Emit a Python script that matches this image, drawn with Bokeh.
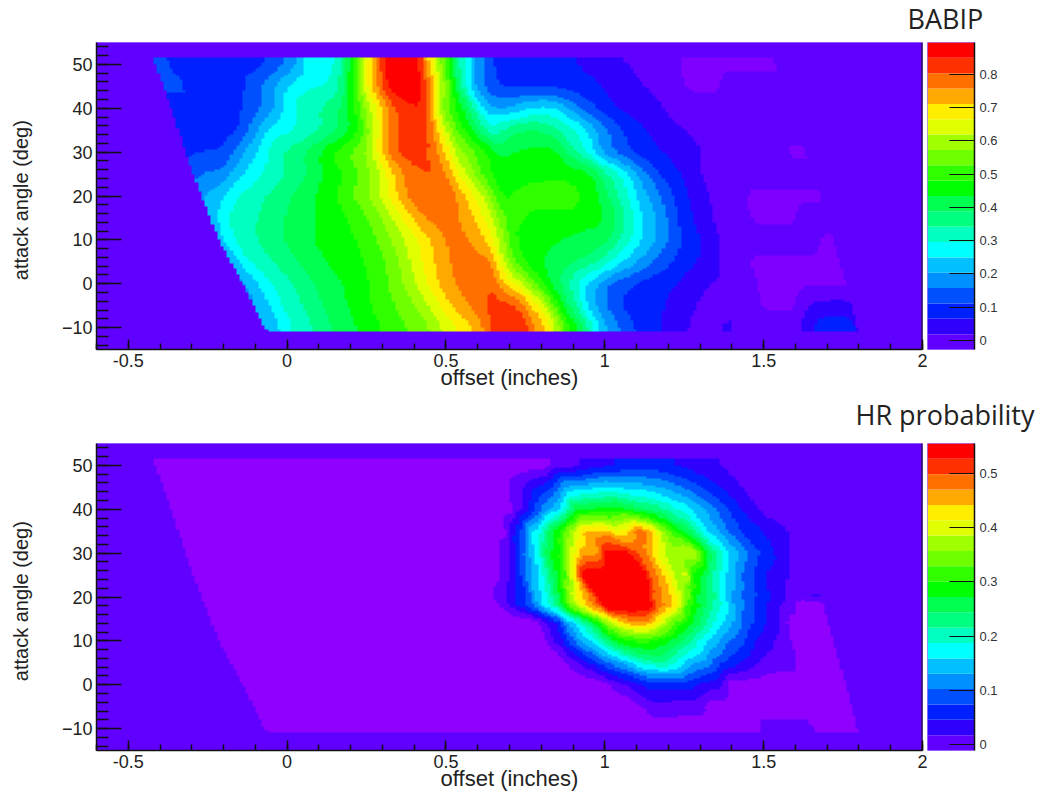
import numpy as np
from bokeh.embed import file_html
from bokeh.resources import INLINE
from bokeh.plotting import figure
from bokeh.layouts import column, row
from bokeh.models import (Range1d, LinearColorMapper, SingleIntervalTicker, FixedTicker,
                          Label, Span, LinearAxis)

palette = ["#6000ff", "#3000ff", "#0020ff", "#0050ff", "#0090ff", "#00c0ff", "#00ffff",
           "#00ffc0", "#00ff80", "#00ff50", "#00ff00", "#30ff00", "#70ff00", "#a0ff00",
           "#e0ff00", "#ffee00", "#ffa800", "#ff7000", "#ff3000", "#ff0000"]

# region outline: attack angle, left and right offset limits
edge_y = [51, 40, 30, 20, 10, 0, -10, -11]
edge_left = [-0.42, -0.365, -0.32, -0.27, -0.215, -0.14, -0.07, -0.05]
edge_right = [1.53, 1.58, 1.63, 1.68, 1.72, 1.76, 1.795, 1.80]

# BABIP rows
b50_x = [-.42, -.35, -.1, 0, .04, .06, .14, .17, .2, .23, .26, .28, .3, .33, .41, .43, .45, .47, .49, .52, .55, .57, .6, .64, .68, .9, .96, 1.04, 1.2, 1.25, 1.5, 1.53]
b50_v = [.13, .10, .09, .16, .22, .27, .28, .33, .45, .58, .68, .76, .83, .88, .88, .78, .68, .62, .55, .42, .32, .27, .18, .12, .09, .07, .04, .02, .01, -.04, -.04, -.04]
b45_x = [-.403, -.382, -.314, -.304, -.157, -.115, -.073, -.031, 0, .031, .147, .168, .199, .22, .241, .262, .283, .304, .325, .419, .44, .461, .482, .503, .524, .545, .565, .586, .628, .68, .95, 1.0, 1.04, 1.15, 1.23, 1.25, 1.36, 1.38, 1.55]
b45_v = [.13, .12, .12, .09, .09, .13, .17, .21, .25, .28, .3, .36, .45, .55, .63, .7, .76, .83, .88, .88, .8, .72, .64, .56, .46, .35, .29, .2, .14, .1, .09, .06, .04, .01, 0, -.04, -.04, 0, 0]
b40_x = [-.37, -.18, -.125, -.07, -.03, 0, .03, .115, .157, .19, .22, .25, .27, .29, .31, .335, .36, .43, .45, .47, .49, .53, .56, .6, .64, .7, .76, .83, .89, .93, 1.0, 1.04, 1.15, 1.2, 1.58]
b40_v = [.09, .09, .12, .16, .22, .27, .31, .35, .38, .43, .5, .58, .64, .68, .74, .78, .83, .85, .75, .65, .55, .47, .43, .3, .2, .2, .25, .27, .2, .14, .09, .06, .04, .01, 0]
b35_x = [-.351, -.157, -.115, -.084, -.052, .052, .115, .178, .22, .251, .272, .293, .314, .335, .356, .44, .461, .482, .503, .524, .565, .607, .64, .67, .72, .78, .85, .91, .94, .98, 1.03, 1.07, 1.125, 1.18, 1.24, 1.31, 1.6]
b35_v = [.08, .1, .16, .22, .27, .3, .34, .4, .47, .55, .62, .68, .73, .78, .82, .83, .75, .68, .62, .55, .46, .38, .3, .34, .39, .4, .35, .3, .27, .2, .14, .1, .07, .04, .02, .01, 0]
b30_x = [-.33, -.27, -.2, -.125, -.08, -.05, .03, .094, .157, .22, .26, .28, .30, .325, .355, .44, .46, .49, .51, .53, .575, .62, .67, .72, .85, .88, .92, .95, 1.0, 1.05, 1.13, 1.2, 1.3, 1.4, 1.55, 1.57, 1.62, 1.63]
b30_v = [.10, .11, .11, .22, .27, .32, .37, .43, .5, .55, .6, .66, .73, .77, .82, .82, .77, .73, .68, .6, .55, .5, .42, .44, .45, .38, .32, .27, .18, .13, .08, .06, .02, 0, 0, -.04, -.04, -.04]
b25_x = [-.298, -.262, -.2, -.168, -.115, -.073, .031, .094, .178, .23, .272, .304, .325, .356, .387, .419, .471, .503, .534, .565, .597, .639, .67, .72, .95, .97, 1.0, 1.035, 1.07, 1.1, 1.14, 1.17, 1.2, 1.26, 1.31, 1.65]
b25_v = [.14, .16, .17, .22, .27, .3, .36, .42, .48, .53, .58, .64, .68, .74, .78, .8, .8, .75, .68, .62, .55, .48, .46, .46, .46, .42, .37, .32, .27, .21, .15, .12, .09, .05, .01, 0]
b20_x = [-.27, -.2, -.17, -.115, -.03, .03, .115, .178, .24, .28, .314, .335, .367, .388, .44, .52, .54, .565, .6, .64, .67, .76, .82, .9, .93, .98, 1.02, 1.06, 1.09, 1.12, 1.16, 1.2, 1.24, 1.29, 1.35, 1.43, 1.45, 1.68]
b20_v = [.2, .24, .29, .32, .36, .40, .45, .5, .56, .6, .66, .7, .74, .78, .79, .79, .74, .7, .65, .58, .47, .5, .52, .52, .46, .44, .37, .32, .27, .22, .18, .13, .09, .04, .01, .005, -.04, -.04]
b15_x = [-.246, -.209, -.178, -.073, .01, .105, .188, .262, .304, .335, .367, .398, .429, .513, .555, .597, .628, .67, .70, .78, .82, .97, 1.02, 1.05, 1.08, 1.1, 1.15, 1.18, 1.21, 1.245, 1.3, 1.35, 1.44, 1.46, 1.6, 1.62, 1.7]
b15_v = [.2, .27, .31, .35, .4, .44, .48, .53, .58, .62, .67, .72, .76, .77, .75, .7, .65, .57, .5, .47, .45, .45, .42, .37, .32, .27, .22, .18, .14, .09, .05, .01, 0, -.04, -.04, 0, 0]
b10_x = [-.215, -.19, -.147, -.084, .01, .094, .178, .25, .304, .356, .398, .44, .47, .5, .566, .59, .63, .66, .69, .72, .8, .9, 1.0, 1.03, 1.07, 1.1, 1.16, 1.19, 1.22, 1.27, 1.32, 1.37, 1.65, 1.69, 1.72]
b10_v = [.23, .27, .31, .35, .40, .44, .46, .5, .55, .6, .65, .69, .74, .76, .76, .75, .7, .65, .55, .47, .45, .43, .41, .37, .31, .27, .21, .17, .13, .09, .05, .01, 0, -.04, -.04]
b5_x = [-.17, -.15, -.105, -.03, .05, .136, .22, .28, .335, .387, .43, .47, .51, .6, .65, .67, .7, .75, .83, .89, .94, .98, 1.0, 1.04, 1.07, 1.125, 1.18, 1.25, 1.32, 1.37, 1.43, 1.46, 1.74]
b5_v = [.2, .27, .31, .35, .4, .44, .47, .5, .55, .62, .67, .72, .76, .77, .76, .65, .55, .47, .42, .4, .38, .35, .32, .27, .24, .18, .13, .09, .05, .01, .005, -.04, -.04]
b0_x = [-.14, -.105, -.073, -.031, .03, .105, .188, .262, .325, .388, .43, .46, .49, .53, .59, .65, .67, .71, .74, .78, .81, .84, .875, .9, .92, .95, 1.0, 1.03, 1.09, 1.12, 1.22, 1.26, 1.32, 1.45, 1.5, 1.72, 1.76]
b0_v = [.18, .23, .27, .31, .35, .4, .44, .48, .53, .6, .65, .69, .73, .76, .78, .8, .72, .67, .62, .53, .46, .42, .37, .32, .28, .23, .17, .13, .11, .09, .07, .04, .02, 0, -.04, -.04, -.04]
bm5_x = [-.094, -.063, -.031, 0, .063, .126, .22, .293, .377, .429, .471, .503, .534, .586, .618, .68, .735, .76, .8, .82, .85, .87, .91, .93, .96, .99, 1.03, 1.05, 1.1, 1.16, 1.22, 1.28, 1.36, 1.45, 1.5, 1.6, 1.63, 1.7, 1.78, 1.8]
bm5_v = [.2, .24, .28, .31, .35, .4, .45, .5, .55, .6, .65, .69, .73, .77, .8, .83, .8, .72, .67, .6, .5, .42, .34, .28, .22, .17, .13, .11, .09, .08, .05, .02, 0, 0, -.04, -.04, .02, .04, .04, 0]
bm10_x = [-.065, -.03, 0, .03, .094, .157, .25, .325, .43, .47, .51, .54, .6, .63, .66, .756, .77, .8, .83, .85, .886, .92, .94, .97, 1.0, 1.04, 1.07, 1.13, 1.22, 1.28, 1.36, 1.385, 1.41, 1.6, 1.64, 1.67, 1.78, 1.8]
bm10_v = [.2, .24, .28, .31, .35, .40, .45, .5, .55, .6, .64, .67, .72, .78, .83, .83, .78, .73, .68, .6, .5, .43, .37, .28, .22, .17, .13, .09, .04, .01, .01, .04, .01, .01, .04, .09, .09, .04]

# HR probability rows
h50_x = [-.42, .8, .84, .9, .95, 1.05, 1.15, 1.25, 1.35, 1.42, 1.53]
h50_v = [-.03, -.03, 0, .01, .03, .05, .06, .04, .02, .005, 0]
h40_x = [-.37, .70, .72, .75, .775, .806, .848, .88, .91, 1.047, 1.09, 1.17, 1.225, 1.27, 1.3, 1.34, 1.38, 1.41, 1.456, 1.5, 1.59]
h40_v = [-.03, -.03, 0, .03, .06, .11, .15, .2, .27, .29, .26, .23, .19, .165, .14, .11, .08, .06, .03, .01, 0]
h35_x = [-.35, .68, .70, .72, .745, .764, .795, .827, .858, .89, .93, 1.005, 1.037, 1.068, 1.11, 1.15, 1.19, 1.236, 1.277, 1.31, 1.35, 1.39, 1.435, 1.54, 1.6]
h35_v = [-.03, -.03, .02, .05, .1, .15, .18, .25, .3, .36, .44, .45, .41, .43, .5, .44, .35, .28, .24, .17, .14, .1, .07, .03, .01]
h30_x = [-.32, .65, .68, .71, .73, .743, .764, .785, .806, .827, .858, .89, .91, .93, .963, .985, 1.0, 1.068, 1.09, 1.12, 1.14, 1.16, 1.19, 1.225, 1.257, 1.278, 1.31, 1.33, 1.35, 1.382, 1.414, 1.445, 1.477, 1.52, 1.55, 1.59, 1.63]
h30_v = [-.03, -.03, 0, .03, .07, .1, .13, .17, .23, .27, .30, .38, .42, .46, .455, .48, .54, .54, .51, .49, .45, .42, .38, .36, .39, .39, .3, .26, .22, .17, .14, .11, .08, .06, .03, .015, 0]
h25_x = [-.3, .649, .68, .712, .733, .754, .775, .796, .822, .848, .879, .9, .921, .937, 1.12, 1.142, 1.173, 1.2, 1.225, 1.257, 1.278, 1.32, 1.351, 1.383, 1.414, 1.456, 1.498, 1.54, 1.582, 1.613]
h25_v = [-.03, -.03, 0, .03, .07, .11, .14, .17, .22, .27, .33, .42, .5, .56, .56, .5, .46, .42, .38, .39, .3, .25, .2, .16, .12, .08, .05, .03, .015, 0]
h20_x = [-.27, .64, .66, .69, .72, .76, .764, .785, .806, .838, .858, .88, .90, .93, .952, .974, .995, 1.13, 1.15, 1.194, 1.225, 1.25, 1.278, 1.278, 1.32, 1.35, 1.37, 1.4, 1.435, 1.466, 1.5, 1.54, 1.58, 1.62, 1.66, 1.7, 1.72]
h20_v = [-.03, -.03, 0, .02, .05, .08, .09, .14, .17, .22, .27, .33, .4, .44, .47, .52, .56, .56, .5, .46, .42, .37, .30, .28, .25, .21, .17, .13, .10, .08, .06, .03, .015, 0, .02, .02, 0]
h18_x = [-.26, .649, .712, .775, .806, .837, .858, .9, .932, .963, .984, 1.005, 1.131, 1.162, 1.204, 1.225, 1.257, 1.299, 1.341, 1.383, 1.414, 1.456, 1.498, 1.55, 1.592, 1.603, 1.7]
h18_v = [-.03, -.03, .03, .1, .16, .2, .25, .36, .42, .48, .5, .56, .56, .5, .45, .42, .32, .27, .21, .17, .12, .09, .05, .02, 0, -.03, -.03]
h14_x = [-.24, .775, .85, .88, .91, .942, .974, 1.005, 1.047, 1.09, 1.14, 1.18, 1.225, 1.278, 1.33, 1.37, 1.414, 1.456, 1.5, 1.55, 1.59, 1.7]
h14_v = [-.03, -.03, .05, .12, .17, .22, .28, .35, .42, .46, .45, .39, .32, .27, .2, .16, .12, .08, .05, .02, -.03, -.03]
h10_x = [-.215, .806, .827, .858, .88, .9, .92, .963, 1.005, 1.026, 1.068, 1.13, 1.194, 1.236, 1.278, 1.31, 1.35, 1.38, 1.435, 1.466, 1.508, 1.55, 1.58, 1.59, 1.72]
h10_v = [-.03, -.03, .01, .03, .07, .10, .13, .17, .23, .27, .3, .31, .28, .25, .21, .17, .14, .11, .08, .05, .03, .01, 0, -.03, -.03]
h5_x = [-.18, .858, .89, .93, .974, 1.005, 1.047, 1.08, 1.12, 1.18, 1.22, 1.27, 1.32, 1.36, 1.4, 1.46, 1.5, 1.54, 1.59, 1.62, 1.74]
h5_v = [-.03, -.03, 0, .03, .07, .1, .13, .16, .2, .22, .19, .14, .12, .08, .06, .03, .01, 0, 0, -.03, -.03]
h0_x = [-.14, .984, 1.047, 1.09, 1.13, 1.19, 1.256, 1.32, 1.37, 1.4, 1.76]
h0_v = [-.03, -.03, .01, .03, .055, .055, .06, .035, .02, -.03, -.03]
hm5_x = [-.1, 1.09, 1.14, 1.21, 1.30, 1.34, 1.78]
hm5_v = [-.03, -.03, .005, .005, 0, -.03, -.03]
hm10_x = [-.07, 1.48, 1.5, 1.65, 1.67, 1.8]
hm10_v = [-.03, -.03, 0, 0, -.03, -.03]

babip_rows = [(50, b50_x, b50_v), (45, b45_x, b45_v), (40, b40_x, b40_v), (35, b35_x, b35_v), (30, b30_x, b30_v),
              (25, b25_x, b25_v), (20, b20_x, b20_v), (15, b15_x, b15_v), (10, b10_x, b10_v), (5, b5_x, b5_v),
              (0, b0_x, b0_v), (-5, bm5_x, bm5_v), (-10, bm10_x, bm10_v)]
hr_rows = [(50, h50_x, h50_v), (40, h40_x, h40_v), (35, h35_x, h35_v), (30, h30_x, h30_v), (25, h25_x, h25_v),
           (20, h20_x, h20_v), (18, h18_x, h18_v), (14, h14_x, h14_v), (10, h10_x, h10_v), (5, h5_x, h5_v),
           (0, h0_x, h0_v), (-5, hm5_x, hm5_v), (-10, hm10_x, hm10_v)]

X0, X1, Y0, Y1 = -0.6, 2.0, -15.0, 55.0
LEAN = 0.0065   # ridges lean with attack angle, rows are blended along that lean


def sample(rows, ry, xs, y):
    yc = np.clip(y, ry.min(), ry.max())
    k = int(np.clip(np.searchsorted(-ry, -yc) - 1, 0, len(ry) - 2))
    t = (ry[k] - yc) / (ry[k] - ry[k + 1])
    a = np.interp(xs + LEAN * (yc - ry[k]), rows[k][1], rows[k][2])
    b = np.interp(xs + LEAN * (yc - ry[k + 1]), rows[k + 1][1], rows[k + 1][2])
    return (1 - t) * a + t * b


def field(rows, soft):
    xs = np.arange(X0, X1, 0.01) + 0.005
    ys = np.arange(Y0, Y1, 0.5) + 0.25
    ry = np.array([r[0] for r in rows], float)
    img = np.zeros((len(ys), len(xs)))
    for j, y in enumerate(ys):
        line = sample(rows, ry, xs, y)
        if soft:
            line = (line + sample(rows, ry, xs + LEAN * soft, y + soft)
                    + sample(rows, ry, xs - LEAN * soft, y - soft)) / 3
        if -11.2 <= y <= 51.3:
            lo = np.interp(y, edge_y[::-1], edge_left[::-1])
            hi = np.interp(y, edge_y[::-1], edge_right[::-1])
            line[(xs < lo) | (xs > hi)] = 0.0
        else:
            line[:] = 0.0
        img[j] = line
    return img


def main_fig(rows, mapper, height, bottom, soft):
    p = figure(width=887, height=height, x_range=Range1d(X0, X1), y_range=Range1d(Y0, Y1),
               toolbar_location=None, output_backend="svg", x_axis_type=None, y_axis_type=None,
               min_border_left=56, min_border_right=5, min_border_top=0, min_border_bottom=bottom,
               outline_line_color="#a77cff", outline_line_width=1, background_fill_color="#6000ff")
    p.grid.visible = False
    p.image(image=[field(rows, soft)], x=X0, y=Y0, dw=X1 - X0, dh=Y1 - Y0, color_mapper=mapper)
    xa = LinearAxis(ticker=SingleIntervalTicker(interval=0.5, num_minor_ticks=5),
                    major_label_overrides={-0.5: "-0.5", 0: "0", 0.5: "0.5", 1: "1", 1.5: "1.5", 2: "2"},
                    axis_label="offset (inches)", axis_label_standoff=-5,
                    axis_label_text_font="Liberation Sans", axis_label_text_font_size="22px",
                    axis_label_text_font_style="normal", axis_label_text_color="#222222")
    ya = LinearAxis(ticker=SingleIntervalTicker(interval=10, num_minor_ticks=5))
    p.add_layout(xa, "below")
    p.add_layout(ya, "left")
    for a, maj, mnr in ((xa, 10, 6), (ya, 25, 12)):
        a.major_tick_in, a.major_tick_out = maj, 0
        a.minor_tick_in, a.minor_tick_out = mnr, 0
        a.major_tick_line_color = a.minor_tick_line_color = a.axis_line_color = "#111111"
        a.major_tick_line_width = a.minor_tick_line_width = 1.5
        a.axis_line_width = 1.5
        a.major_label_text_font = "Liberation Sans"
        a.major_label_text_font_size = "18px"
        a.major_label_text_color = "#222222"
        a.major_label_standoff = 4
    p.add_layout(Span(location=X1, dimension="height", line_color="#111111", line_width=2))
    return p


def side_fig(text, height):
    p = figure(width=40, height=height, x_range=Range1d(0, 40), y_range=Range1d(height, 0),
               toolbar_location=None, output_backend="svg", x_axis_type=None, y_axis_type=None,
               min_border=0, outline_line_color=None)
    p.grid.visible = False
    p.add_layout(Label(x=20, y=271, text=text, text_align="left", text_baseline="middle", angle=np.pi / 2,
                       text_font="Liberation Sans", text_font_size="20px", text_color="#222222"))
    return p


def bar_fig(low, high, ticks, height, bottom):
    p = figure(width=111, height=height, x_range=Range1d(0, 1), y_range=Range1d(low, high),
               toolbar_location=None, output_backend="svg", x_axis_type=None, y_axis_type=None,
               min_border_left=0, min_border_right=64, min_border_top=0, min_border_bottom=bottom,
               outline_line_color="#a77cff", outline_line_width=1)
    p.grid.visible = False
    lv = np.linspace(low, high, len(palette) + 1)
    p.quad(left=0, right=1, bottom=lv[:-1], top=lv[1:], fill_color=palette, line_color=None)
    a = LinearAxis(ticker=FixedTicker(ticks=ticks), major_tick_in=25, major_tick_out=0,
                   minor_tick_in=0, minor_tick_out=0, major_label_overrides={0: "0"})
    a.major_tick_line_color = a.axis_line_color = "#111111"
    a.major_tick_line_width = 1.2
    a.axis_line_width = 1.5
    a.major_label_text_font = "Liberation Sans"
    a.major_label_text_font_size = "13px"
    a.major_label_text_color = "#333333"
    a.major_label_standoff = 5
    p.add_layout(a, "right")
    return p


def header(text, height, x, y):
    p = figure(width=1038, height=height, x_range=Range1d(0, 1038), y_range=Range1d(height, 0),
               toolbar_location=None, output_backend="svg", x_axis_type=None, y_axis_type=None,
               min_border=0, outline_line_color=None)
    p.grid.visible = False
    p.add_layout(Label(x=x, y=y, text=text, text_align="left", text_baseline="middle",
                       text_font="Open Sans", text_font_size="27px", text_color="#222222"))
    return p


babip_low, babip_high = -0.027, 0.895
hr_low, hr_high = -0.011, 0.555
babip_ticks = [0, .1, .2, .3, .4, .5, .6, .7, .8]
hr_ticks = [0, .1, .2, .3, .4, .5]

m1 = LinearColorMapper(palette=palette, low=babip_low, high=babip_high, low_color="#8000ff", high_color="#ff0000")
m2 = LinearColorMapper(palette=palette, low=hr_low, high=hr_high, low_color="#8f00ff", high_color="#ff0000")

p1 = main_fig(babip_rows, m1, 350, 42, 1.5)
p2 = main_fig(hr_rows, m2, 350, 42, 0)
c1 = bar_fig(babip_low, babip_high, babip_ticks, 350, 42)
c2 = bar_fig(hr_low, hr_high, hr_ticks, 350, 42)
s1 = side_fig("attack angle (deg)", 350)
s2 = side_fig("attack angle (deg)", 350)
h1 = header("BABIP", 42, 907, 18)
h2 = header("HR probability", 51, 855, 22)

page = column(h1, row(s1, p1, c1), h2, row(s2, p2, c2))
open("out.html", "w").write(file_html(page, INLINE))
